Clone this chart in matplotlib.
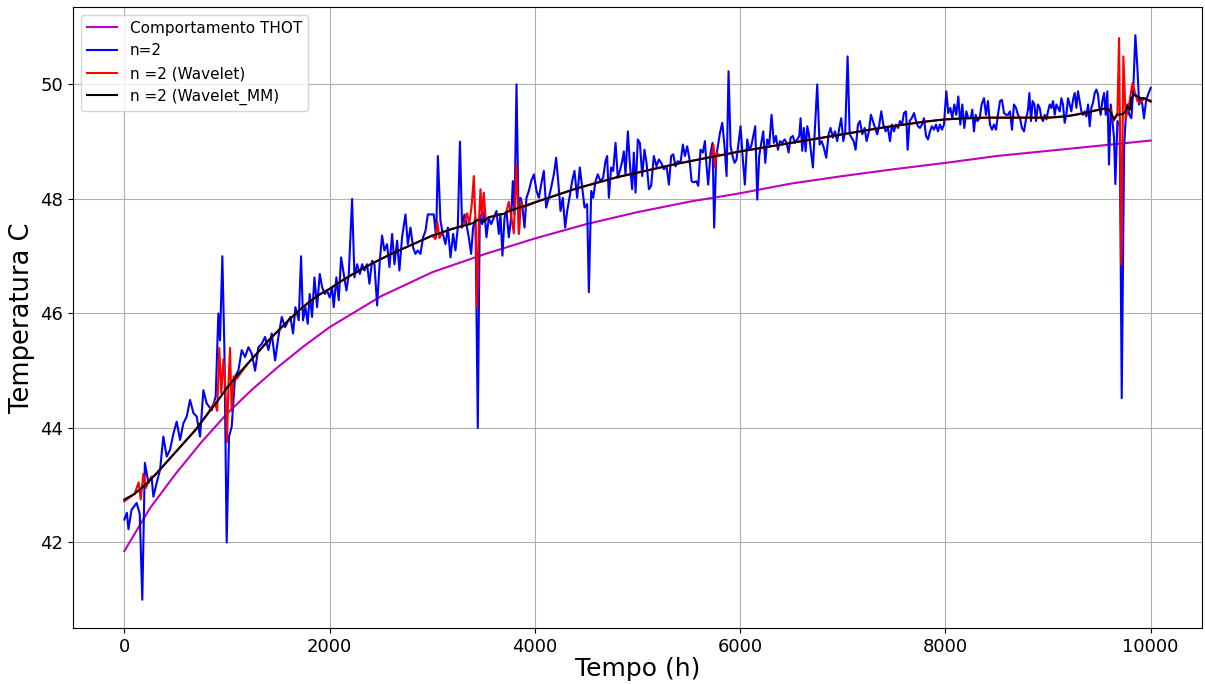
import matplotlib
matplotlib.use('Agg')
import matplotlib.pyplot as plt
import numpy as np

# modelo THOT (curva teorica)
thot_t = [0, 250, 500, 750, 1000, 1250, 1500, 1750, 2000, 2500, 3000, 3500, 4000,
          4500, 5000, 5500, 6000, 6500, 7000, 7500, 8000, 8500, 9000, 9500, 10000]
thot_v = [41.85, 42.6, 43.2, 43.75, 44.25, 44.68, 45.07, 45.43, 45.76, 46.3, 46.72, 47.03, 47.31,
          47.56, 47.77, 47.95, 48.1, 48.27, 48.4, 48.52, 48.63, 48.75, 48.84, 48.93, 49.02]

# medicao n=2
blue_t = [0, 25, 40, 70, 120, 150, 175, 200, 235, 265,
          283, 315, 348, 380, 413, 445, 478, 510, 543, 575,
          608, 640, 673, 705, 738, 770, 802, 851, 890, 916,
          932, 955, 975, 997, 1020, 1046, 1079, 1111, 1144, 1176,
          1209, 1241, 1274, 1306, 1339, 1371, 1404, 1436, 1469, 1501,
          1534, 1566, 1599, 1618, 1644, 1667, 1699, 1722, 1741, 1764,
          1787, 1806, 1829, 1852, 1878, 1904, 1927, 1953, 1975, 2001,
          2024, 2040, 2066, 2089, 2112, 2138, 2164, 2187, 2219, 2242,
          2268, 2294, 2317, 2339, 2365, 2388, 2414, 2437, 2463, 2489,
          2511, 2534, 2560, 2583, 2609, 2632, 2658, 2680, 2706, 2739,
          2762, 2788, 2814, 2836, 2859, 2885, 2911, 2934, 2957, 2983,
          3015, 3038, 3055, 3080, 3103, 3129, 3152, 3178, 3204, 3226,
          3249, 3270, 3291, 3314, 3333, 3356, 3379, 3398, 3421, 3444,
          3463, 3486, 3509, 3528, 3551, 3574, 3600, 3626, 3649, 3665,
          3684, 3704, 3723, 3746, 3769, 3785, 3801, 3821, 3844, 3860,
          3876, 3899, 3918, 3941, 3964, 3990, 4016, 4039, 4061, 4087,
          4110, 4136, 4159, 4185, 4207, 4230, 4250, 4272, 4295, 4315,
          4337, 4363, 4386, 4412, 4438, 4461, 4484, 4509, 4526, 4549,
          4568, 4591, 4613, 4639, 4665, 4688, 4704, 4721, 4743, 4763,
          4786, 4808, 4828, 4851, 4867, 4883, 4906, 4926, 4948, 4964,
          4981, 5003, 5023, 5046, 5068, 5088, 5111, 5133, 5159, 5185,
          5208, 5231, 5257, 5283, 5306, 5328, 5348, 5371, 5393, 5419,
          5442, 5462, 5484, 5507, 5527, 5549, 5572, 5592, 5614, 5637,
          5657, 5673, 5689, 5712, 5731, 5747, 5767, 5783, 5803, 5826,
          5848, 5868, 5887, 5907, 5926, 5946, 5965, 5988, 6004, 6024,
          6046, 6069, 6089, 6108, 6128, 6147, 6167, 6186, 6206, 6225,
          6245, 6264, 6284, 6306, 6329, 6349, 6368, 6388, 6410, 6433,
          6453, 6472, 6492, 6514, 6534, 6557, 6576, 6589, 6605, 6621,
          6638, 6654, 6670, 6686, 6709, 6729, 6751, 6774, 6794, 6816,
          6839, 6862, 6881, 6904, 6924, 6946, 6966, 6985, 7005, 7024,
          7047, 7067, 7086, 7106, 7125, 7148, 7167, 7190, 7213, 7232,
          7255, 7274, 7294, 7314, 7336, 7356, 7375, 7395, 7418, 7440,
          7460, 7479, 7499, 7518, 7538, 7557, 7577, 7596, 7616, 7632,
          7651, 7671, 7694, 7713, 7733, 7752, 7772, 7791, 7811, 7830,
          7850, 7869, 7889, 7908, 7928, 7947, 7967, 7986, 8009, 8028,
          8048, 8067, 8087, 8106, 8126, 8145, 8165, 8184, 8204, 8223,
          8246, 8262, 8278, 8295, 8311, 8334, 8353, 8376, 8395, 8415,
          8434, 8454, 8473, 8493, 8512, 8532, 8551, 8571, 8590, 8610,
          8629, 8649, 8668, 8688, 8707, 8727, 8746, 8766, 8785, 8805,
          8818, 8834, 8850, 8867, 8883, 8902, 8919, 8935, 8951, 8967,
          8984, 9000, 9016, 9032, 9049, 9065, 9081, 9097, 9114, 9130,
          9146, 9162, 9178, 9195, 9211, 9227, 9243, 9260, 9276, 9292,
          9308, 9325, 9341, 9357, 9373, 9390, 9406, 9422, 9438, 9455,
          9471, 9487, 9500, 9513, 9529, 9546, 9562, 9578, 9594, 9611,
          9627, 9643, 9656, 9676, 9698, 9718, 9741, 9757, 9773, 9792,
          9812, 9831, 9851, 9871, 9887, 9903, 9919, 9935, 9955, 9974,
          10000]
blue_v = [42.4, 42.52, 42.23, 42.57, 42.69, 42.5, 41.0, 43.39, 43.04, 43.15,
          42.8, 43.04, 43.27, 43.85, 43.5, 43.62, 43.9, 44.11, 43.79, 44.08,
          44.2, 44.49, 44.26, 44.2, 43.85, 44.66, 44.43, 44.31, 44.55, 46.0,
          45.53, 47.0, 45.36, 42.0, 43.85, 44.02, 44.9, 45.0, 45.36, 45.24,
          45.41, 45.3, 45.0, 45.41, 45.47, 45.59, 45.36, 45.65, 45.18, 45.59,
          45.94, 45.76, 45.88, 45.94, 45.65, 46.11, 45.88, 47.0, 45.88, 46.11,
          45.82, 46.34, 45.94, 46.63, 46.11, 46.69, 46.46, 46.34, 46.4, 46.28,
          46.46, 46.11, 46.63, 46.23, 46.98, 46.69, 46.4, 46.69, 48.0, 46.63,
          46.86, 46.69, 46.86, 46.75, 46.86, 46.52, 46.92, 46.86, 46.14, 46.92,
          47.36, 47.1, 47.21, 46.81, 47.39, 46.86, 47.27, 46.75, 47.33, 47.73,
          47.21, 47.5, 47.15, 47.04, 47.1, 47.04, 47.33, 47.44, 47.73, 47.73,
          47.73, 47.33, 48.75, 47.62, 47.39, 47.21, 47.5, 46.98, 47.39, 47.1,
          47.5, 49.0, 47.5, 47.73, 47.56, 47.33, 47.04, 47.5, 47.67, 44.0,
          47.73, 47.56, 47.79, 47.33, 47.67, 47.56, 47.67, 47.79, 47.39, 47.73,
          47.01, 47.67, 47.79, 47.33, 47.67, 48.31, 47.73, 50.0, 47.39, 48.02,
          47.91, 47.5, 48.02, 48.14, 48.31, 48.43, 48.14, 48.02, 48.25, 48.49,
          47.85, 48.02, 48.2, 48.43, 48.72, 48.25, 47.79, 48.02, 47.5, 47.79,
          48.02, 48.31, 48.49, 48.02, 48.55, 48.2, 47.85, 47.91, 46.37, 48.14,
          48.02, 48.31, 48.43, 48.31, 48.37, 48.66, 48.75, 48.02, 48.55, 48.49,
          48.98, 48.37, 48.49, 48.66, 48.83, 48.43, 49.18, 48.6, 48.17, 48.81,
          48.11, 49.04, 48.98, 48.4, 48.86, 48.63, 48.17, 48.23, 48.75, 48.57,
          48.69, 48.63, 48.52, 48.57, 48.25, 48.75, 48.78, 48.57, 48.66, 48.63,
          48.95, 48.75, 48.92, 48.69, 48.31, 48.29, 48.31, 48.23, 48.86, 48.81,
          49.01, 48.57, 48.25, 48.81, 48.98, 47.5, 48.75, 48.92, 49.15, 49.33,
          48.92, 48.4, 50.23, 48.92, 48.75, 48.63, 48.69, 49.04, 49.27, 48.75,
          48.25, 49.04, 48.86, 48.92, 49.1, 49.27, 47.99, 48.75, 48.98, 49.18,
          48.63, 49.04, 48.95, 49.47, 48.98, 49.1, 48.86, 49.01, 48.98, 49.04,
          48.98, 48.81, 49.07, 49.1, 48.98, 49.04, 49.1, 49.41, 48.84, 49.24,
          48.83, 49.27, 49.13, 48.89, 48.55, 49.24, 50.0, 48.95, 49.01, 48.89,
          48.72, 49.13, 49.24, 49.07, 49.18, 49.01, 49.24, 49.41, 49.01, 49.18,
          50.49, 49.13, 49.07, 49.01, 48.86, 49.3, 49.36, 49.13, 49.24, 49.01,
          49.18, 49.47, 49.36, 49.24, 49.13, 49.3, 49.53, 49.3, 49.18, 49.24,
          49.01, 49.3, 49.18, 49.3, 49.24, 49.36, 49.3, 49.5, 49.53, 48.86,
          49.36, 49.41, 49.5, 49.36, 49.27, 49.24, 49.3, 49.41, 49.1, 49.04,
          49.18, 49.27, 49.21, 49.3, 49.18, 49.3, 49.21, 49.3, 49.88, 49.5,
          49.59, 49.41, 49.65, 49.47, 49.79, 49.3, 49.65, 49.24, 49.53, 49.41,
          49.41, 49.56, 49.18, 49.47, 49.36, 49.41, 49.65, 49.76, 49.47, 49.71,
          49.3, 49.21, 49.3, 49.21, 49.47, 49.71, 49.73, 49.5, 49.47, 49.47,
          49.53, 49.21, 49.65, 49.59, 49.47, 49.41, 49.24, 49.18, 49.39, 49.56,
          49.85, 49.36, 49.71, 49.65, 49.36, 49.65, 49.59, 49.41, 49.36, 49.47,
          49.39, 49.53, 49.65, 49.59, 49.71, 49.47, 49.65, 49.59, 49.53, 49.76,
          49.65, 49.33, 49.47, 49.76, 49.65, 49.53, 49.73, 49.85, 49.59, 49.88,
          49.71, 49.53, 49.47, 49.53, 49.44, 49.65, 49.27, 49.59, 49.68, 49.85,
          49.91, 49.82, 49.59, 49.47, 49.71, 49.85, 49.47, 49.88, 48.6, 49.65,
          49.36, 49.07, 48.26, 49.36, 49.3, 44.52, 48.9, 49.41, 49.65, 49.47,
          49.41, 49.94, 50.86, 50.28, 49.65, 49.76, 49.65, 49.41, 49.71, 49.82,
          49.94]

# n=2 filtrado (Wavelet)
wav_t = [0, 100, 140, 160, 185, 210, 240, 300, 400, 500, 600, 700, 800, 880, 905, 925,
         945, 965, 985, 1000, 1015, 1030, 1045, 1065, 1090, 1200, 1300, 1400, 1500, 1600,
         1700, 1800, 1900, 2000, 2100, 2200, 2300, 2400, 2500, 2600, 2700, 2800, 2900,
         3000, 3030, 3050, 3070, 3100, 3200, 3300, 3340, 3360, 3385, 3405, 3425, 3437,
         3455, 3470, 3485, 3502, 3520, 3550, 3600, 3700, 3720, 3746, 3770, 3795, 3821,
         3844, 3865, 3885, 4000, 4200, 4400, 4600, 4800, 5000, 5200, 5400, 5600, 5725,
         5740, 5755, 5770, 5800, 6000, 6200, 6400, 6600, 6800, 7000, 7200, 7400, 7600,
         7800, 8000, 8200, 8400, 8600, 8800, 9000, 9200, 9400, 9500, 9560, 9611, 9637,
         9660, 9676, 9692, 9714, 9734, 9757, 9789, 9822, 9844, 9871, 9903, 9935, 9970,
         10000]
wav_v = [42.72, 42.85, 43.05, 42.75, 43.2, 42.95, 43.1, 43.18, 43.38, 43.58, 43.78, 43.98, 44.22, 44.45, 44.3, 45.4,
         44.6, 45.2, 44.7, 43.75, 44.8, 45.4, 44.3, 44.9, 44.85, 45.12, 45.32, 45.52, 45.7, 45.88,
         46.05, 46.2, 46.33, 46.43, 46.55, 46.66, 46.76, 46.86, 46.95, 47.04, 47.12, 47.2, 47.28,
         47.36, 47.3, 47.6, 47.32, 47.42, 47.48, 47.53, 47.75, 47.55, 47.9, 48.4, 47.4, 46.1,
         47.6, 48.17, 47.7, 48.11, 47.65, 47.68, 47.7, 47.74, 47.75, 47.95, 47.7, 47.4, 48.6,
         47.4, 47.95, 47.85, 47.94, 48.06, 48.18, 48.28, 48.38, 48.46, 48.54, 48.62, 48.69, 48.74,
         48.95, 48.55, 48.8, 48.76, 48.83, 48.89, 48.95, 49.01, 49.07, 49.13, 49.19, 49.25, 49.3,
         49.35, 49.39, 49.41, 49.42, 49.42, 49.42, 49.42, 49.45, 49.52, 49.56, 49.58, 49.56, 49.36,
         49.45, 49.5, 50.81, 46.86, 50.49, 49.41, 49.65, 50.02, 49.88, 49.71, 49.68, 49.76, 49.73,
         49.72]

# n=2 filtrado + media movel (Wavelet_MM)
mm_t = [0, 100, 200, 300, 400, 500, 600, 700, 800, 900, 1000, 1100, 1200, 1300, 1400,
        1500, 1600, 1700, 1800, 1900, 2000, 2100, 2200, 2300, 2400, 2500, 2600, 2700,
        2800, 2900, 3000, 3100, 3200, 3300, 3400, 3450, 3500, 3550, 3600, 3650, 3700,
        3750, 3800, 3900, 4000, 4200, 4400, 4600, 4800, 5000, 5200, 5400, 5600, 5800,
        6000, 6200, 6400, 6600, 6800, 7000, 7200, 7400, 7600, 7800, 8000, 8200, 8400,
        8600, 8800, 9000, 9100, 9200, 9300, 9400, 9500, 9560, 9600, 9643, 9676, 9724,
        9757, 9773, 9799, 9812, 9838, 9871, 9903, 9935, 9970, 10000]
mm_v = [42.75, 42.85, 43.0, 43.18, 43.38, 43.58, 43.78, 43.98, 44.22, 44.45, 44.7, 44.92, 45.12, 45.32, 45.52,
        45.7, 45.88, 46.05, 46.2, 46.33, 46.43, 46.55, 46.66, 46.76, 46.86, 46.95, 47.04, 47.12,
        47.2, 47.28, 47.36, 47.42, 47.48, 47.53, 47.58, 47.64, 47.6, 47.68, 47.7, 47.73, 47.74,
        47.79, 47.82, 47.88, 47.94, 48.06, 48.18, 48.28, 48.38, 48.46, 48.54, 48.62, 48.69, 48.76,
        48.83, 48.89, 48.95, 49.01, 49.07, 49.13, 49.19, 49.25, 49.3, 49.35, 49.39, 49.41, 49.42,
        49.42, 49.42, 49.42, 49.43, 49.45, 49.48, 49.52, 49.56, 49.58, 49.55, 49.39, 49.47, 49.48,
        49.53, 49.62, 49.56, 49.76, 49.82, 49.79, 49.76, 49.76, 49.73, 49.7]

fig = plt.figure(figsize=(12.05, 6.84), dpi=100)
ax = fig.add_axes([0.0606, 0.0819, 0.9369, 0.9079])

ax.plot(thot_t, thot_v, color='m', lw=1.5, label='Comportamento THOT')
ax.plot(blue_t, blue_v, color='b', lw=1.5, label='n=2')
ax.plot(wav_t, wav_v, color='r', lw=1.5, label='n =2 (Wavelet)')
ax.plot(mm_t, mm_v, color='k', lw=1.5, label='n =2 (Wavelet_MM)')

ax.set_xlabel('Tempo (h)', fontsize=18, labelpad=1)
ax.set_ylabel('Temperatura C', fontsize=18.5)
ax.tick_params(labelsize=13)
ax.grid(True)
ax.legend(loc='upper left', fontsize=11)

fig.savefig('out.png', dpi=100)
